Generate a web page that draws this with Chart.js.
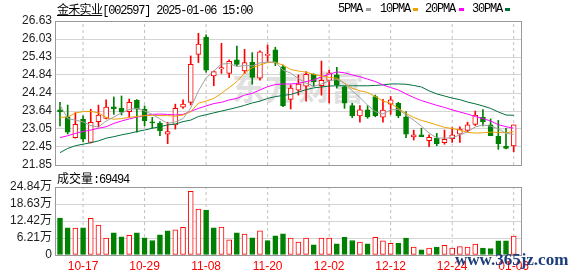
<!DOCTYPE html>
<html><head><meta charset="utf-8"><title>金禾实业</title>
<script src="https://cdn.jsdelivr.net/npm/chart.js@4/dist/chart.umd.min.js"></script>
<style>
html,body{margin:0;padding:0;background:#fff;}
#wrap{position:relative;width:578px;height:276px;overflow:hidden;background:#fff;}
canvas{position:absolute;left:0;top:0;z-index:1;}
.t{position:absolute;white-space:nowrap;font-size:12px;line-height:14px;color:#000;z-index:3;}
.cjk{font-family:'Noto Sans CJK SC',sans-serif;letter-spacing:-0.7px;}
.mono{font-family:'Liberation Mono',monospace;letter-spacing:-1.2px;}
.u{text-decoration:underline;}
.sq{position:absolute;width:5px;height:3px;top:8px;z-index:3;}
#wm{position:absolute;left:232px;top:66px;font:bold 33px 'Noto Sans CJK SC',sans-serif;line-height:40px;color:#e0e0e0;z-index:0;white-space:nowrap;}
#site{position:absolute;left:455px;top:251px;font:bold 17px 'Liberation Serif',serif;line-height:17px;color:#1d3d7d;z-index:4;white-space:nowrap;}
</style></head>
<body>
<div id="wrap">
  <div id="wm">东方财富</div>
  <canvas id="c1" width="578" height="276"></canvas>
  <canvas id="c2" width="578" height="276"></canvas>
  <div class="t" style="left:57px;top:2px;"><span class="cjk u">金禾实业</span><span class="mono">[002597] 2025-01-06 15:00</span></div>
  <div class="t mono" style="left:338px;top:2px;">5PMA</div><div class="sq" style="left:366px;background:#a0a0a0;"></div>
  <div class="t mono" style="left:380px;top:2px;">10PMA</div><div class="sq" style="left:413px;background:#f0a000;"></div>
  <div class="t mono" style="left:425px;top:2px;">20PMA</div><div class="sq" style="left:459px;background:#ff00ff;"></div>
  <div class="t mono" style="left:472px;top:2px;">30PMA</div><div class="sq" style="left:505px;background:#00703c;"></div>
  <div class="t" style="left:57px;top:171px;"><span class="cjk" style="letter-spacing:0">成交量</span><span class="mono">:69494</span></div>
  <div id="site">www.365jz.com</div>
</div>
<script>
// ---- data ----
const dates = ['10-14','10-15','10-16','10-17','10-18','10-21','10-22','10-23','10-24','10-25',
'10-28','10-29','10-30','10-31','11-01','11-04','11-05','11-06','11-07','11-08',
'11-11','11-12','11-13','11-14','11-15','11-18','11-19','11-20','11-21','11-22',
'11-25','11-26','11-27','11-28','11-29','12-02','12-03','12-04','12-05','12-06',
'12-09','12-10','12-11','12-12','12-13','12-16','12-17','12-18','12-19','12-20',
'12-23','12-24','12-25','12-26','12-27','12-30','12-31','01-02','01-03','01-06'];
const xTickLabels = ['10-17','10-29','11-08','11-20','12-02','12-12','12-24','01-06'];
const priceTicks = [26.63,26.03,25.43,24.84,24.24,23.64,23.05,22.45,21.85];
const volTicks = [24.84,18.63,12.42,6.21,0];

const open  = [23.68,23.45,22.76,23.37,22.60,23.29,23.40,23.78,23.73,23.62,
24.00,23.70,23.28,23.23,22.87,23.18,23.77,23.93,25.52,26.09,
24.81,25.04,24.89,25.34,24.97,25.26,24.73,25.49,25.67,25.11,
24.03,24.33,24.47,24.86,24.48,24.66,24.84,24.45,23.82,23.48,
23.68,24.12,23.44,23.87,23.90,23.45,22.78,22.85,22.66,22.74,
22.59,22.72,22.87,23.00,23.20,23.43,23.18,22.81,22.48,22.48];
const high  = [23.93,23.84,23.59,23.48,23.70,23.84,24.01,24.11,24.14,24.04,
24.02,23.81,23.43,23.29,23.27,23.87,24.01,25.47,26.22,26.17,
24.97,25.89,25.34,25.80,25.69,25.58,25.64,25.83,25.76,25.17,
24.51,24.84,24.95,24.88,25.30,25.00,25.09,24.47,23.90,23.82,
23.82,24.17,24.03,24.12,23.93,23.62,23.01,23.07,22.85,22.90,
23.01,23.09,23.12,23.27,23.64,23.69,23.38,23.33,23.07,23.18];
const low   = [23.15,22.88,22.74,22.62,22.58,23.11,23.38,23.53,23.51,23.45,
22.94,23.15,23.07,22.82,22.56,23.04,23.73,23.84,25.25,24.93,
24.48,24.89,24.75,25.15,24.88,24.53,24.67,25.26,25.15,23.79,
23.71,24.17,23.97,24.45,24.17,23.91,24.40,23.73,23.42,23.27,
23.40,23.45,23.27,23.53,23.42,22.76,22.68,22.79,22.46,22.49,
22.54,22.60,22.60,22.94,23.16,23.15,22.82,22.37,22.38,22.29];
const close = [23.61,22.94,23.20,22.71,23.27,23.51,23.77,23.71,23.60,23.93,
23.70,23.32,23.25,22.99,22.96,23.73,23.87,25.19,25.86,25.00,
24.95,25.08,25.29,25.19,25.25,24.76,25.61,25.52,25.25,23.82,
24.40,24.54,24.86,24.62,24.66,24.91,24.51,23.90,23.48,23.68,
23.45,23.49,23.67,24.01,23.49,22.87,22.85,22.79,22.77,22.56,
22.70,22.85,23.04,23.18,23.51,23.29,22.82,22.56,22.40,23.18];

const ma5  = [23.84,23.39,23.34,23.28,23.16,23.11,23.31,23.44,23.58,23.69,
23.73,23.64,23.53,23.38,23.23,23.28,23.39,23.74,24.31,24.74,
24.97,25.20,25.22,25.12,25.15,25.14,25.24,25.27,25.27,25.00,
24.90,24.72,24.57,24.46,24.54,24.64,24.69,24.57,24.31,24.09,
23.84,23.62,23.54,23.68,23.69,23.51,23.34,23.14,22.91,22.75,
22.74,22.75,22.85,22.95,23.11,23.18,23.14,23.05,22.90,22.87];
const ma10 = [23.43,23.44,23.58,23.62,23.63,23.58,23.43,23.37,23.39,23.43,
23.46,23.49,23.50,23.49,23.49,23.47,23.51,23.62,23.90,23.97,
24.06,24.23,24.42,24.62,24.90,25.08,25.17,25.25,25.25,25.17,
25.02,24.97,24.93,24.86,24.80,24.76,24.73,24.56,24.40,24.31,
24.26,24.12,23.97,23.90,23.73,23.56,23.43,23.33,23.26,23.18,
23.10,23.06,23.01,22.93,22.91,22.92,22.94,22.93,22.92,22.96];
const ma20 = [22.76,22.82,22.90,22.96,23.01,23.07,23.12,23.23,23.31,23.38,
23.44,23.49,23.53,23.54,23.53,23.51,23.53,23.63,23.73,23.81,
23.89,23.93,24.01,24.06,24.17,24.23,24.34,24.45,24.52,24.54,
24.54,24.56,24.62,24.67,24.78,24.86,24.94,24.91,24.84,24.78,
24.70,24.62,24.51,24.42,24.34,24.21,24.09,23.99,23.91,23.83,
23.76,23.68,23.61,23.54,23.46,23.39,23.31,23.19,23.12,23.07];
const ma30 = [22.26,22.40,22.49,22.54,22.59,22.65,22.74,22.79,22.85,22.90,
22.96,23.01,23.07,23.12,23.18,23.21,23.29,23.34,23.46,23.52,
23.58,23.64,23.70,23.76,23.83,23.91,23.97,24.06,24.12,24.16,
24.19,24.27,24.35,24.41,24.44,24.47,24.48,24.48,24.48,24.48,
24.48,24.49,24.51,24.54,24.54,24.53,24.49,24.44,24.31,24.21,
24.14,24.07,24.02,23.94,23.88,23.81,23.73,23.61,23.51,23.50];

// volume in 万 (10k shares)
const volume = [13.5,9.9,9.8,9.9,13.4,10.9,6.2,8.1,6.6,7.2,
8.1,6.3,5.3,7.4,8.8,9.2,10.1,23.3,16.8,16.4,
9.9,10.2,5.5,8.1,7.6,6.3,8.8,5.3,7.0,7.7,
6.2,4.7,6.2,3.7,6.2,6.2,4.1,6.5,5.3,4.7,
4.1,6.5,5.2,4.3,4.3,6.2,2.9,1.9,2.5,2.9,
3.5,2.5,3.1,2.9,4.0,2.5,2.3,5.2,5.2,6.9494];
// 1 = red (up) volume bar, 0 = green
const volUp = [0,0,1,0,1,1,1,0,0,1,
0,0,0,0,0,1,1,1,1,0,
0,1,1,0,1,0,1,0,0,0,
1,1,1,0,1,1,0,0,0,1,
0,1,1,1,0,0,1,0,1,0,
1,1,1,1,1,0,0,0,0,1];

// ---- chart ----
const RED = '#ff0000', GREEN = '#008000';
const up = close.map((c,i) => c >= open[i]);
const tickIdx = xTickLabels.map(d => dates.indexOf(d));
const X_MIN = -0.65, X_MAX = 60.08;
const P_MIN = priceTicks[priceTicks.length - 1], P_MAX = priceTicks[0];
const V_MIN = 0, V_MAX = volTicks[0];

Chart.defaults.font.family = "'Liberation Sans','Noto Sans CJK SC',sans-serif";
Chart.defaults.font.size = 12;
Chart.defaults.animation = false;
Chart.defaults.plugins.legend.display = false;
Chart.defaults.plugins.tooltip.enabled = false;

// vertical dashed guides at the labelled dates, drawn as a gapped line dataset
function guideSet(lo, hi) {
  const d = [];
  tickIdx.forEach(i => { d.push({ x: i, y: lo }, { x: i, y: hi }, { x: i + 0.5, y: null }); });
  return { type: 'line', data: d, borderColor: '#c0c0c0', borderWidth: 1, borderDash: [3, 3],
           pointRadius: 0, spanGaps: false, tension: 0, fill: false, order: 9 };
}

const frame = {
  id: 'frame',
  afterDraw(c) {
    const a = c.chartArea, ctx = c.ctx;
    const l = Math.floor(a.left) + 0.5, t = Math.floor(a.top) + 0.5;
    const r = Math.floor(a.right) - 0.5, b = Math.floor(a.bottom) + 0.5;
    ctx.save();
    ctx.setLineDash([]);
    ctx.strokeStyle = '#999999';
    ctx.lineWidth = 1;
    ctx.strokeRect(l, t, r - l, b - t);
    ctx.restore();
  }
};

function xScale(showLabels) {
  return {
    type: 'linear', min: X_MIN, max: X_MAX, offset: false,
    afterBuildTicks: s => { s.ticks = tickIdx.map(v => ({ value: v })); },
    afterFit: s => { s.height = showLabels ? 21 : 0; },
    ticks: { display: showLabels, color: RED, padding: 4, autoSkip: false, maxRotation: 0,
             font: { size: 12, family: "'Liberation Sans',sans-serif" },
             callback: v => dates[v] },
    grid: { display: false, drawTicks: false },
    border: { display: false }
  };
}
function yScale(min, max, ticks, fmt) {
  return {
    type: 'linear', min: min, max: max,
    afterBuildTicks: s => { s.ticks = ticks.slice().reverse().map(v => ({ value: v })); },
    afterFit: s => { s.width = 55; },
    ticks: { color: '#1e1e1e', padding: 3, autoSkip: false, callback: fmt },
    grid: { color: '#d4d4d4', drawTicks: false, lineWidth: 1 },
    border: { display: false }
  };
}

const pts = arr => arr.map((v, i) => ({ x: i, y: v }));
const line = (arr, color) => ({ type: 'line', data: pts(arr), borderColor: color, borderWidth: 1,
  pointRadius: 0, tension: 0, fill: false, order: 0 });

new Chart(document.getElementById('c1'), {
  type: 'bar',
  data: { datasets: [
    line(ma5, '#a0a0a0'),
    line(ma10, '#f0a000'),
    line(ma20, '#ff00ff'),
    line(ma30, '#00703c'),
    { type: 'bar', data: open.map((o, i) => ({ x: i, y: [o, close[i]] })),
      backgroundColor: up.map(u => u ? '#ffffff' : GREEN),
      borderColor: up.map(u => u ? RED : GREEN),
      borderWidth: 1, borderSkipped: false, barThickness: 5, grouped: false, minBarLength: 1, order: 1 },
    { type: 'bar', data: low.map((l, i) => ({ x: i, y: [l, high[i]] })),
      backgroundColor: up.map(u => u ? RED : GREEN),
      borderWidth: 0, barThickness: 1, grouped: false, order: 2 },
    guideSet(P_MIN, P_MAX)
  ] },
  options: {
    responsive: false, animation: false,
    layout: { padding: { left: 0, top: 21, right: 56, bottom: 111 } },
    scales: { x: xScale(false), y: yScale(P_MIN, P_MAX, priceTicks, v => v.toFixed(2)) }
  },
  plugins: [frame]
});

new Chart(document.getElementById('c2'), {
  type: 'bar',
  data: { datasets: [
    { type: 'bar', data: pts(volume),
      backgroundColor: volUp.map(u => u ? '#ffffff' : GREEN),
      borderColor: volUp.map(u => u ? RED : GREEN),
      borderWidth: 1, borderSkipped: false, barThickness: 5, grouped: false, order: 1 },
    guideSet(V_MIN, V_MAX)
  ] },
  options: {
    responsive: false, animation: false,
    layout: { padding: { left: 0, top: 187, right: 56, bottom: 0 } },
    scales: { x: xScale(true), y: yScale(V_MIN, V_MAX, volTicks, v => v === 0 ? '0' : v.toFixed(2) + '万') }
  },
  plugins: [frame]
});
</script>
</body></html>
